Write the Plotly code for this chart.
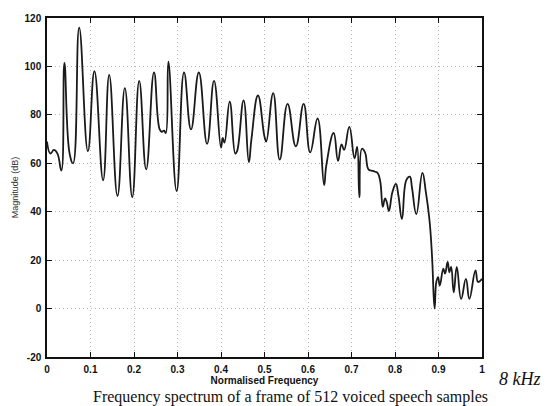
import plotly.graph_objects as go

# Magnitude spectrum of one 512-sample voiced speech frame (normalised frequency, dB)
freq = [0.000, 0.008, 0.016, 0.024, 0.033, 0.040, 0.052, 0.060, 0.074, 0.094,
        0.109, 0.129, 0.143, 0.162, 0.179, 0.196, 0.212, 0.228, 0.246, 0.259,
        0.264, 0.269, 0.273, 0.279, 0.298, 0.315, 0.331, 0.349, 0.368, 0.384,
        0.400, 0.404, 0.408, 0.420, 0.433, 0.437, 0.452, 0.464, 0.470, 0.485,
        0.500, 0.504, 0.520, 0.535, 0.553, 0.572, 0.590, 0.605, 0.622, 0.637,
        0.642, 0.659, 0.669, 0.677, 0.683, 0.695, 0.707, 0.713, 0.718, 0.724,
        0.731, 0.739, 0.746, 0.753, 0.760, 0.766, 0.772, 0.777, 0.781, 0.786,
        0.794, 0.802, 0.808, 0.816, 0.826, 0.834, 0.839, 0.849, 0.863, 0.871,
        0.879, 0.885, 0.891, 0.895, 0.899, 0.903, 0.911, 0.915, 0.921, 0.925,
        0.929, 0.935, 0.942, 0.952, 0.963, 0.971, 0.985, 0.991, 1.000]
mag_db = [69.0, 64.0, 65.5, 64.0, 57.0, 101.5, 64.0, 60.0, 116.0, 65.0,
          98.0, 53.0, 96.5, 46.5, 91.0, 46.0, 94.0, 57.5, 97.5, 74.0,
          73.0, 73.5, 72.5, 102.0, 48.5, 97.5, 74.0, 97.5, 68.0, 94.0,
          66.5, 70.5, 68.5, 85.5, 64.0, 65.0, 86.0, 60.5, 70.0, 88.0,
          71.0, 69.0, 89.0, 61.5, 84.5, 67.0, 84.5, 64.5, 78.5, 51.0,
          59.0, 72.5, 61.0, 67.8, 65.5, 75.0, 62.0, 66.8, 46.0, 66.0,
          64.5, 57.5, 57.0, 56.6, 56.0, 52.6, 42.0, 45.5, 44.0, 40.3,
          48.0, 51.5, 46.5, 37.0, 53.0, 54.5, 50.0, 39.0, 56.0, 48.0,
          37.0, 22.0, 0.0, 11.0, 13.0, 9.5, 16.5, 14.4, 19.3, 15.0,
          17.2, 6.7, 17.2, 4.0, 12.3, 4.0, 15.8, 11.0, 12.3]

x_ticks = [0, 0.1, 0.2, 0.3, 0.4, 0.5, 0.6, 0.7, 0.8, 0.9, 1]
x_tick_labels = ["0", "0.1", "0.2", "0.3", "0.4", "0.5", "0.6", "0.7", "0.8", "0.9", "1"]
y_ticks = [-20, 0, 20, 40, 60, 80, 100, 120]
y_tick_labels = ["-20", "0", "20", "40", "60", "80", "100", "120"]

x_title = "Normalised Frequency"
y_title = "Magnitude (dB)"
caption = "Frequency spectrum of a frame of 512 voiced speech samples"
band_note = "8 kHz"

fig = go.Figure(
    go.Scatter(
        x=freq, y=mag_db, mode="lines",
        line=dict(color="#1a1a1a", width=1.8, shape="spline", smoothing=1.3),
        hoverinfo="skip",
    )
)

axis_common = dict(
    showline=True, linecolor="#111111", linewidth=1.5, mirror="ticks",
    ticks="inside", ticklen=5, tickwidth=1.2, tickcolor="#111111",
    showgrid=True, gridcolor="#bdb3c8", gridwidth=1, griddash="1px,3px",
    zeroline=False,
    tickfont=dict(family="Liberation Sans", size=10, color="#111111", weight="bold"),
)

fig.update_xaxes(
    range=[0, 1], tickvals=x_ticks, ticktext=x_tick_labels,
    title=dict(text=x_title,
               font=dict(family="Liberation Sans", size=10, color="#111111", weight="bold"),
               standoff=3),
    ticklabelstandoff=2,
    **axis_common,
)
fig.update_yaxes(
    range=[-20, 120], tickvals=y_ticks, ticktext=y_tick_labels,
    title=dict(text=y_title, font=dict(family="Liberation Sans", size=9, color="#333333"),
               standoff=4),
    ticklabelstandoff=2,
    **axis_common,
)

fig.add_annotation(
    text=caption, xref="paper", yref="paper", x=0.56, y=-0.087,
    xanchor="center", yanchor="top", showarrow=False,
    font=dict(family="Liberation Serif", size=16, color="#111111"),
)
fig.add_annotation(
    text=band_note, xref="paper", yref="paper", x=1.035, y=-0.065,
    xanchor="left", yanchor="middle", showarrow=False,
    font=dict(family="Liberation Serif", size=18, color="#111111", style="italic"),
)

fig.update_layout(
    width=547, height=406,
    margin=dict(l=47, r=65, t=14, b=49),
    paper_bgcolor="white", plot_bgcolor="white",
    showlegend=False,
)

fig.write_html("out.html")
